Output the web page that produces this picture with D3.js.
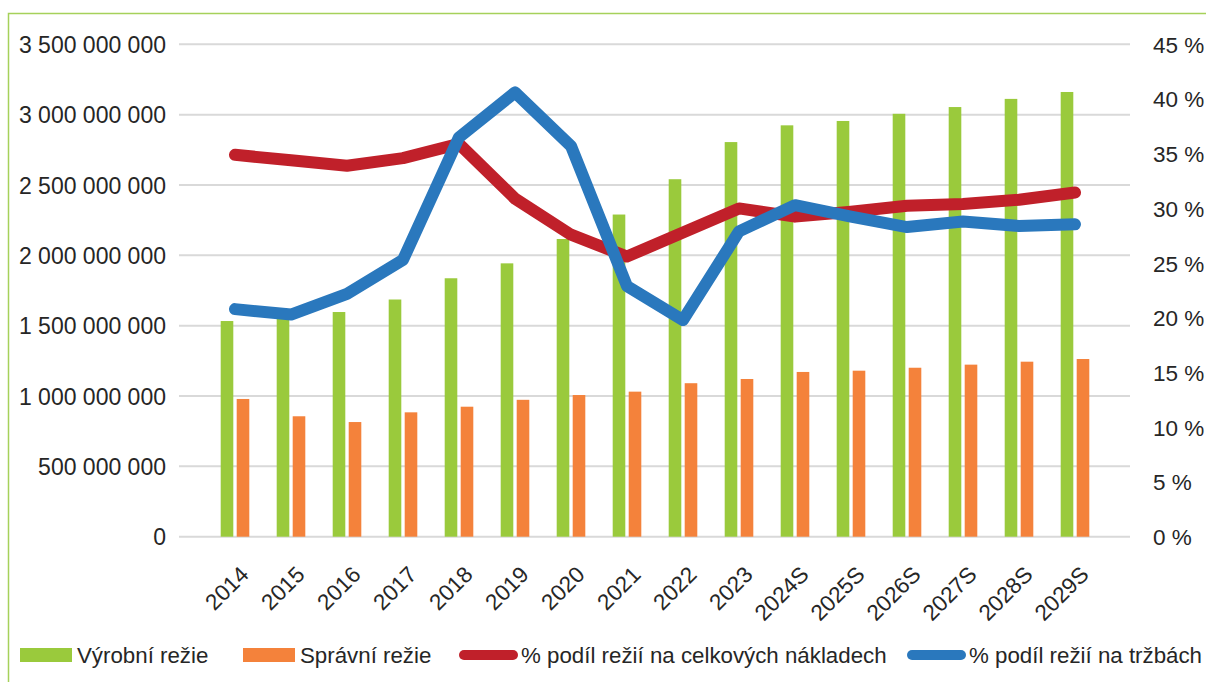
<!DOCTYPE html>
<html>
<head>
<meta charset="utf-8">
<script src="https://cdn.jsdelivr.net/npm/d3@7"></script>
<style>
  html, body { margin: 0; padding: 0; background: #fff; }
  text { font-family: "Liberation Sans", Arial, sans-serif; fill: #262626; }
</style>
</head>
<body>
<div id="chart"></div>
<script>
// ----- dati
var categories = ["2014", "2015", "2016", "2017", "2018", "2019", "2020", "2021", "2022", "2023",
  "2024S", "2025S", "2026S", "2027S", "2028S", "2029S"];

// Výrobní režie (Kč)
var vyrobni = [1533e6, 1550e6, 1597e6, 1686e6, 1837e6, 1943e6, 2116e6, 2290e6, 2541e6, 2805e6,
  2924e6, 2955e6, 3006e6, 3054e6, 3112e6, 3161e6];
// Správní režie (Kč)
var spravni = [979e6, 856e6, 815e6, 884e6, 924e6, 973e6, 1007e6, 1031e6, 1091e6, 1121e6,
  1171e6, 1180e6, 1201e6, 1223e6, 1244e6, 1263e6];
// % podíl režií na celkových nákladech
var podilNaklady = [34.9, 34.4, 33.9, 34.6, 35.9, 30.9, 27.6, 25.6, 27.8, 30.0,
  29.25, 29.7, 30.25, 30.4, 30.8, 31.45];
// % podíl režií na tržbách
var podilTrzby = [20.8, 20.3, 22.2, 25.3, 36.5, 40.6, 35.7, 22.9, 19.8, 27.9,
  30.3, 29.25, 28.3, 28.8, 28.4, 28.55];

var leftTicks = [0, 5e8, 1e9, 1.5e9, 2e9, 2.5e9, 3e9, 3.5e9];
var rightTicks = [0, 5, 10, 15, 20, 25, 30, 35, 40, 45];

var legendLabels = ["Výrobní režie", "Správní režie", "% podíl režií na celkových nákladech", "% podíl režií na tržbách"];

// ----- colori
var cGreen = "#9aca3c";
var cOrange = "#f4823b";
var cRed = "#c0202a";
var cBlue = "#2a78bd";
var cGrid = "#d9d9d9";

var w = 1206;
var h = 682;

var svg = d3.select("#chart").append("svg")
  .attr("width", w).attr("height", h)
  .attr("viewBox", "0 0 " + w + " " + h);

svg.append("rect").attr("width", w).attr("height", h).attr("fill", "#fff");

// bordo verde (solo sinistra e sopra visibili)
svg.append("rect")
  .attr("x", 8.5).attr("y", 13.5)
  .attr("width", w + 20).attr("height", h + 20)
  .attr("fill", "none")
  .attr("stroke", "#a6d15a")
  .attr("stroke-width", 1.5);

// ----- scale
var gridX0 = 179, gridX1 = 1130;
var yTop = 44.3, yBottom = 536.7;

var x = d3.scaleBand().domain(categories).range([207, 1103]).paddingInner(0).paddingOuter(0);
var xSub = d3.scaleBand().domain(["v", "s"]).range([13.7, 42.3]).paddingInner(0.2125).paddingOuter(0);

var yLeft = d3.scaleLinear().domain([0, 3.5e9]).range([yBottom, yTop]);
var yRight = d3.scaleLinear().domain([0, 45]).range([yBottom, yTop]);

var loc = d3.formatLocale({ decimal: ",", thousands: " ", grouping: [3], currency: ["", " Kč"] });
var fmtLeft = loc.format(",.0f");

// ----- griglia
svg.append("g").selectAll("line").data(leftTicks).enter().append("line")
  .attr("x1", gridX0).attr("x2", gridX1)
  .attr("y1", function (d) { return yLeft(d); })
  .attr("y2", function (d) { return yLeft(d); })
  .attr("stroke", cGrid)
  .attr("stroke-width", 2);

// ----- assi
var axL = svg.append("g")
  .attr("transform", "translate(" + 166 + ",0)")
  .call(d3.axisLeft(yLeft).tickValues(leftTicks).tickFormat(fmtLeft).tickSize(0).tickPadding(0));
axL.select(".domain").remove();
axL.selectAll("text").attr("font-size", 23).attr("font-family", null).attr("dy", "0.35em");

var axR = svg.append("g")
  .attr("transform", "translate(" + 1153 + ",0)")
  .call(d3.axisRight(yRight).tickValues(rightTicks).tickFormat(function (d) { return d + " %"; }).tickSize(0).tickPadding(0));
axR.select(".domain").remove();
axR.selectAll("text").attr("font-size", 22.5).attr("font-family", null).attr("dy", "0.35em");

// etichette categorie ruotate
svg.append("g").selectAll("text").data(categories).enter().append("text")
  .attr("transform", function (d) {
    return "translate(" + (x(d) + x.bandwidth() / 2 + 15) + ",576) rotate(-45)";
  })
  .attr("text-anchor", "end")
  .attr("font-size", 22.5)
  .text(function (d) { return d; });

// ----- barre
var bars = svg.append("g");
bars.selectAll("rect.vyrobni").data(vyrobni).enter().append("rect")
  .attr("class", "vyrobni")
  .attr("x", function (d, i) { return x(categories[i]) + xSub("v"); })
  .attr("width", xSub.bandwidth())
  .attr("y", function (d) { return yLeft(d); })
  .attr("height", function (d) { return yBottom - yLeft(d); })
  .attr("fill", cGreen);

bars.selectAll("rect.spravni").data(spravni).enter().append("rect")
  .attr("class", "spravni")
  .attr("x", function (d, i) { return x(categories[i]) + xSub("s"); })
  .attr("width", xSub.bandwidth())
  .attr("y", function (d) { return yLeft(d); })
  .attr("height", function (d) { return yBottom - yLeft(d); })
  .attr("fill", cOrange);

// ----- linee
var line = d3.line()
  .x(function (d, i) { return x(categories[i]) + x.bandwidth() / 2; })
  .y(function (d) { return yRight(d); });

svg.append("path").datum(podilNaklady)
  .attr("d", line)
  .attr("fill", "none")
  .attr("stroke", cRed)
  .attr("stroke-width", 12)
  .attr("stroke-linecap", "round")
  .attr("stroke-linejoin", "round");

svg.append("path").datum(podilTrzby)
  .attr("d", line)
  .attr("fill", "none")
  .attr("stroke", cBlue)
  .attr("stroke-width", 12)
  .attr("stroke-linecap", "round")
  .attr("stroke-linejoin", "round");

// ----- legenda
var legY = 655;
var legItems = [
  { label: legendLabels[0], color: cGreen, type: "bar", x: 20 },
  { label: legendLabels[1], color: cOrange, type: "bar", x: 243 },
  { label: legendLabels[2], color: cRed, type: "line", x: 459 },
  { label: legendLabels[3], color: cBlue, type: "line", x: 907 }
];

var leg = svg.append("g");
legItems.forEach(function (it) {
  if (it.type === "bar") {
    leg.append("rect")
      .attr("x", it.x).attr("y", legY - 7)
      .attr("width", 52).attr("height", 14)
      .attr("fill", it.color);
  } else {
    leg.append("line")
      .attr("x1", it.x + 5).attr("x2", it.x + 54)
      .attr("y1", legY).attr("y2", legY)
      .attr("stroke", it.color)
      .attr("stroke-width", 10)
      .attr("stroke-linecap", "round");
  }
  leg.append("text")
    .attr("x", it.type === "bar" ? it.x + 57 : it.x + 62)
    .attr("y", legY)
    .attr("dy", "0.35em")
    .attr("font-size", 22.3)
    .text(it.label);
});
</script>
</body>
</html>
